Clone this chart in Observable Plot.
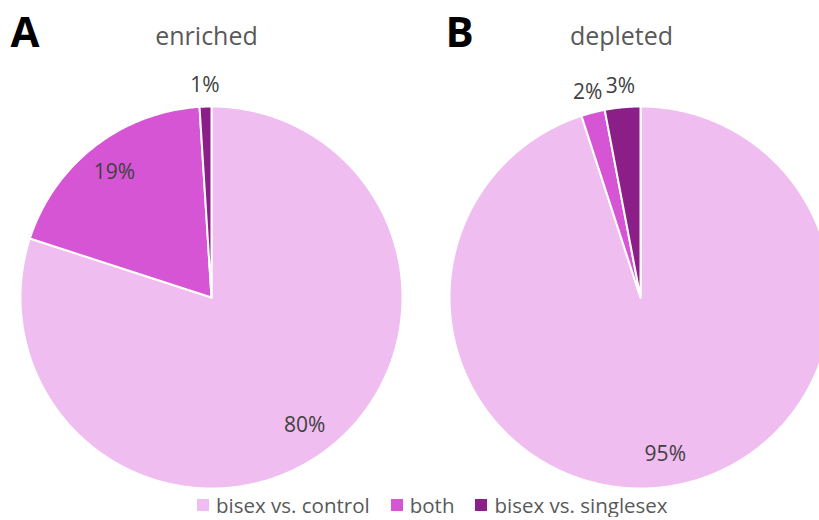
<!DOCTYPE html>
<html>
<head>
<meta charset="utf-8">
<script src="https://cdn.jsdelivr.net/npm/d3@7"></script>
<script src="https://cdn.jsdelivr.net/npm/@observablehq/plot@0.6"></script>
<style>
  html, body { margin: 0; padding: 0; background: #fff; overflow: hidden; }
  #chart { width: 819px; }
  .lg-swatches { margin: 0 0 0 197px !important; min-height: 0 !important; height: 24px; line-height: 24px;
    font-family: "Open Sans", sans-serif !important; font-size: 20.5px !important; color: #595959 !important;
    flex-wrap: nowrap !important; }
  .lg-swatch { margin-right: 21px !important; }
  .lg-swatch > svg { margin-right: 7px !important; }
</style>
</head>
<body>
<div id="chart"></div>
<script>
// Share of genes per comparison, for enriched (A) and depleted (B) sets
const categories = ["bisex vs. control", "both", "bisex vs. singlesex"];
const colors = ["#efbdef", "#d655d4", "#8b1e87"];
const panels = ["A", "B"];
const panelTitles = ["enriched", "depleted"];
const enrichedPct = [80, 19, 1];
const depletedPct = [95, 2, 3];

const W = 819, H = 493;
const R = 191;                          // pie radius (px)
const centers = [[211, 297], [640, 297]]; // pie centres (px)

const series = [enrichedPct, depletedPct];

// Build slice outlines (centre -> arc -> centre) clockwise from 12 o'clock
const slicePts = [];
const labels = [];
series.forEach((vals, p) => {
  const [cx, cy] = centers[p];
  const total = d3.sum(vals);
  let cum = 0;
  vals.forEach((v, i) => {
    const a0 = cum / total * 2 * Math.PI;
    const a1 = (cum + v) / total * 2 * Math.PI;
    const key = panels[p] + i;
    const n = Math.max(2, Math.ceil((a1 - a0) / (Math.PI / 360)));
    slicePts.push({key, cat: categories[i], x: cx, y: cy});
    for (let k = 0; k <= n; k++) {
      const a = a0 + (a1 - a0) * k / n;
      slicePts.push({key, cat: categories[i], x: cx + R * Math.sin(a), y: cy - R * Math.cos(a)});
    }
    slicePts.push({key, cat: categories[i], x: cx, y: cy});
    const am = (a0 + a1) / 2;
    const r = v < 5 ? 1.11 * R : 0.83 * R;
    labels.push({x: cx + r * Math.sin(am), y: cy - r * Math.cos(am), text: `${v}%`});
    cum += v;
  });
});

const letterPos = [[10, 33], [445, 33]];
const titlePos = [[206, 36], [621, 36]];

const plot = Plot.plot({
  width: W,
  height: H,
  margin: 0,
  x: {domain: [0, W], range: [0, W], axis: null},
  y: {domain: [0, H], range: [0, H], axis: null},
  color: {domain: categories, range: colors},
  style: {fontFamily: "'Open Sans', sans-serif", background: "#fff"},
  marks: [
    Plot.line(slicePts, {x: "x", y: "y", z: "key", fill: "cat", stroke: "white", strokeWidth: 2, strokeLinejoin: "round"}),
    Plot.text(labels, {x: "x", y: "y", text: "text", fill: "#404040", fontSize: 21}),
    Plot.text(panels, {x: (d, i) => letterPos[i][0], y: (d, i) => letterPos[i][1], text: d => d,
      textAnchor: "start", fontSize: 42, fontWeight: "bold", fill: "#000"}),
    Plot.text(panelTitles, {x: (d, i) => titlePos[i][0], y: (d, i) => titlePos[i][1], text: d => d,
      fontSize: 25, fill: "#595959"})
  ]
});

const legend = Plot.legend({
  color: {domain: categories, range: colors},
  swatchSize: 12,
  className: "lg"
});

const host = document.getElementById("chart");
host.appendChild(plot);
host.appendChild(legend);
</script>
</body>
</html>
